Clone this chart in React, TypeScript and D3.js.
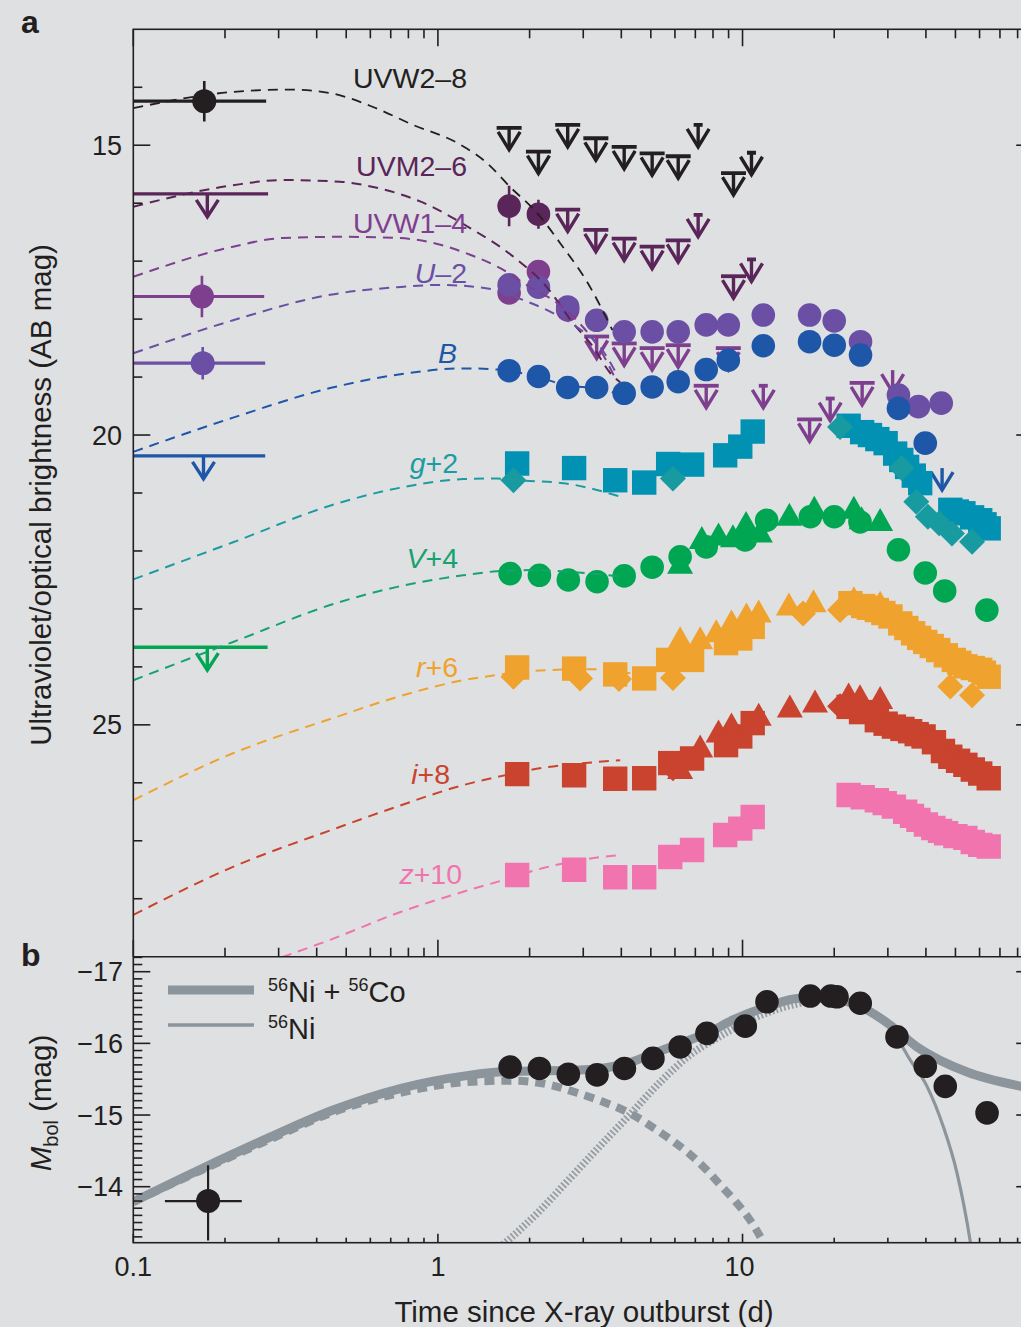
import React from 'react';
import * as d3 from 'd3';

type Pt = [number, number]; // [days since outburst, magnitude]

// ---------------- Panel a: photometry (AB mag, band offsets applied) ----------------
const uvw2Limits: Pt[] = [[1.713, 14.70], [2.138, 15.11], [2.667, 14.65], [3.30, 14.88], [4.088, 15.03], [5.05, 15.14], [6.15, 15.19], [9.34, 15.48]];
const uvw2LimitsNarrow: Pt[] = [[7.15, 14.65], [10.7, 15.13]];

const uvm2Points: Pt[] = [[1.713, 16.05], [2.138, 16.19]];
const uvm2Errors: number[] = [0.35, 0.25];
const uvm2Limits: Pt[] = [[2.667, 16.11], [3.30, 16.46], [4.088, 16.61], [5.05, 16.75], [6.15, 16.64], [9.34, 17.26]];
const uvm2LimitsNarrow: Pt[] = [[7.15, 16.20], [10.7, 16.97]];

const uvw1Points: Pt[] = [[1.713, 17.55], [2.138, 17.18], [2.667, 17.84]];
const uvw1Limits: Pt[] = [[3.32, 18.30], [4.088, 18.42], [5.05, 18.50], [6.15, 18.45], [7.6, 19.15], [8.98, 18.50], [16.6, 19.73], [24.7, 19.10]];
const uvw1LimitsNarrow: Pt[] = [[11.7, 19.15], [19.4, 19.37]];
const uvw1Arrows: Pt[] = [[31.1, 18.88]];

const uPoints: Pt[] = [[1.713, 17.41], [2.138, 17.45], [2.667, 17.79], [3.32, 18.02], [4.088, 18.22], [5.05, 18.22], [6.15, 18.22], [7.6, 18.10], [8.98, 18.10], [11.7, 17.93], [16.6, 17.93], [20.0, 18.03], [24.4, 18.39], [32.5, 19.31], [37.8, 19.51], [44.9, 19.45]];

const bPoints: Pt[] = [[1.713, 18.89], [2.138, 18.99], [2.667, 19.18], [3.32, 19.18], [4.088, 19.28], [5.05, 19.17], [6.15, 19.08], [7.6, 18.87], [8.98, 18.71], [11.7, 18.46], [16.6, 18.39], [20.0, 18.45], [24.4, 18.62], [32.5, 19.54], [39.8, 20.14]];
const bArrows: Pt[] = [[45.2, 20.57]];

const gSquares: Pt[] = [[1.82, 20.49], [2.80, 20.57], [3.82, 20.78], [4.756, 20.82], [5.70, 20.50], [6.83, 20.51], [8.77, 20.35], [9.83, 20.20], [10.8, 19.94], [22.3, 19.84], [24.7, 19.95], [26.2, 20.00], [27.7, 20.07], [29.5, 20.14], [31.7, 20.32], [33.2, 20.43], [34.7, 20.55], [36.5, 20.70], [38.3, 20.83], [48.1, 21.29], [50.5, 21.32], [53.1, 21.35], [56.7, 21.42], [60.3, 21.47], [62.3, 21.54], [64.3, 21.61]];
const gDiamonds: Pt[] = [[1.77, 20.78], [5.91, 20.75], [20.9, 19.86], [33.3, 20.57], [37.2, 21.15], [40.6, 21.41], [44.2, 21.52], [48.7, 21.70], [56.7, 21.84]];

const vCircles: Pt[] = [[1.726, 22.39], [2.154, 22.42], [2.68, 22.50], [3.33, 22.53], [4.088, 22.43], [5.05, 22.28], [6.24, 22.10], [7.6, 21.93], [10.2, 21.81], [12.0, 21.47], [16.7, 21.41], [20.0, 21.41], [24.3, 21.50], [32.5, 21.98], [39.8, 22.38], [46.1, 22.69], [63.4, 23.02]];
const vTriangles: Pt[] = [[6.24, 22.24], [7.35, 21.81], [8.34, 21.75], [9.3, 21.78], [10.27, 21.55], [11.4, 21.70], [14.25, 21.41], [17.2, 21.29], [23.2, 21.29], [24.6, 21.47], [28.3, 21.50]];

const rSquares: Pt[] = [[1.82, 24.01], [2.80, 24.03], [3.82, 24.13], [4.756, 24.20], [5.70, 23.88], [6.83, 23.88], [8.83, 23.59], [9.83, 23.51], [10.8, 23.31], [22.6, 22.90], [24.9, 22.95], [26.0, 22.98], [27.6, 23.02], [29.0, 23.07], [30.6, 23.13], [32.95, 23.25], [34.5, 23.33], [36.3, 23.42], [38.0, 23.50], [39.8, 23.57], [41.8, 23.64], [43.9, 23.71], [46.5, 23.80], [49.4, 23.88], [51.5, 23.93], [53.9, 23.99], [57.0, 24.02], [60.3, 24.05], [62.0, 24.10], [64.3, 24.17]];
const rDiamonds: Pt[] = [[1.77, 24.17], [2.93, 24.20], [3.93, 24.21], [5.91, 24.19], [15.8, 23.08], [20.9, 23.02], [48.1, 24.34], [56.7, 24.49]];
const rTriangles: Pt[] = [[6.24, 23.54], [7.26, 23.54], [8.2, 23.42], [9.2, 23.25], [10.3, 23.13], [11.3, 23.08], [14.2, 22.96], [17.1, 22.90], [23.2, 22.85], [28.3, 22.93]];

const iSquares: Pt[] = [[1.82, 25.85], [2.80, 25.87], [3.82, 25.93], [4.756, 25.92], [5.79, 25.66], [6.83, 25.58], [8.83, 25.35], [9.83, 25.20], [10.8, 24.97], [22.3, 24.69], [24.5, 24.78], [27.6, 24.92], [29.5, 24.98], [31.4, 25.03], [33.5, 25.07], [35.5, 25.11], [37.3, 25.16], [39.3, 25.20], [42.5, 25.30], [45.5, 25.45], [48.1, 25.55], [51.0, 25.62], [53.9, 25.69], [57.0, 25.77], [60.3, 25.84], [64.3, 25.92]];
const iDiamonds: Pt[] = [[5.91, 25.75], [20.9, 24.68]];
const iTriangles: Pt[] = [[6.24, 25.78], [7.26, 25.41], [8.34, 25.15], [9.2, 25.03], [11.3, 24.86], [14.3, 24.72], [17.3, 24.63], [22.3, 24.51], [24.3, 24.54], [28.3, 24.57]];

const zSquares: Pt[] = [[1.82, 27.59], [2.80, 27.50], [3.82, 27.63], [4.756, 27.63], [5.79, 27.28], [6.83, 27.16], [8.77, 26.90], [9.83, 26.79], [10.8, 26.59], [22.3, 26.21], [24.8, 26.25], [27.6, 26.30], [29.3, 26.35], [31.4, 26.41], [34.2, 26.50], [36.0, 26.57], [37.8, 26.64], [40.0, 26.72], [42.3, 26.78], [44.5, 26.83], [46.6, 26.87], [50.0, 26.92], [53.9, 26.95], [57.0, 27.02], [60.3, 27.07], [64.3, 27.10]];

// Pre-outburst epoch (time window t0..t1)
const earlyDetections = [
  { band: 'uvw2', t: 0.171, t0: 0.1, t1: 0.273, mag: 14.24, err: 0.35 },
  { band: 'uvw1', t: 0.168, t0: 0.1, t1: 0.269, mag: 17.61, err: 0.36 },
  { band: 'u', t: 0.169, t0: 0.1, t1: 0.271, mag: 18.76, err: 0.28 },
];
const earlyLimits = [
  { band: 'uvm2', t: 0.175, t0: 0.1, t1: 0.277, mag: 15.84 },
  { band: 'b', t: 0.170, t0: 0.1, t1: 0.271, mag: 20.36 },
  { band: 'v', t: 0.175, t0: 0.1, t1: 0.276, mag: 23.66 },
];

// Model light curves per band (dashed)
const uvw2Model: Pt[] = [[0.1, 14.36], [0.2126, 14.08], [0.327, 14.04], [0.4426, 14.10], [0.6127, 14.34], [0.829, 14.65], [1.157, 14.96], [1.451, 15.31], [1.726, 15.72], [2.118, 16.17], [2.577, 16.76], [3.067, 17.33], [3.74, 18.19]];
const uvm2Model: Pt[] = [[0.1, 16.06], [0.2126, 15.69], [0.31, 15.60], [0.477, 15.63], [0.613, 15.72], [0.874, 15.97], [1.276, 16.43], [1.766, 16.92], [2.279, 17.45], [2.78, 18.07], [3.233, 18.48], [3.678, 18.93], [3.966, 19.09]];
const uvw1Model: Pt[] = [[0.1, 17.27], [0.2126, 16.75], [0.31, 16.60], [0.477, 16.58], [0.7345, 16.60], [1.072, 16.75], [1.276, 16.89], [1.601, 17.12], [2.008, 17.45], [2.463, 17.72], [2.998, 18.14], [3.409, 18.53], [3.819, 19.02]];
const uModel: Pt[] = [[0.1, 18.59], [0.2126, 18.02], [0.4426, 17.58], [0.7345, 17.45], [1.017, 17.41], [1.564, 17.50], [1.862, 17.65], [2.336, 17.87], [2.865, 18.14], [3.409, 18.48], [3.877, 18.96]];
const bModel: Pt[] = [[0.1, 20.29], [0.2126, 19.70], [0.4426, 19.19], [0.7345, 18.96], [1.21, 18.85], [1.564, 18.87], [2.138, 19.00], [2.667, 19.15], [3.333, 19.19], [3.966, 19.31]];
const gModel: Pt[] = [[0.1, 22.49], [0.2126, 21.85], [0.4667, 21.18], [0.7345, 20.92], [1.21, 20.76], [1.564, 20.75], [1.82, 20.78], [2.577, 20.83], [3.966, 21.06]];
const vModel: Pt[] = [[0.1, 24.23], [0.2126, 23.57], [0.477, 22.88], [0.7345, 22.62], [1.21, 22.42], [1.564, 22.35], [2.008, 22.33], [3.16, 22.39], [4.119, 22.45]];
const rModel: Pt[] = [[0.1, 26.30], [0.2126, 25.49], [0.4667, 24.86], [0.7345, 24.52], [1.21, 24.23], [1.564, 24.14], [2.008, 24.07], [3.16, 24.04], [4.278, 24.11], [4.976, 24.16]];
const iModel: Pt[] = [[0.1, 28.28], [0.2126, 27.45], [0.4598, 26.79], [0.7345, 26.41], [1.21, 26.04], [1.564, 25.90], [2.216, 25.74], [3.333, 25.64], [3.966, 25.61]];
const zModel: Pt[] = [[0.2416, 29.21], [0.3345, 28.94], [0.4426, 28.71], [0.7345, 28.25], [1.21, 27.88], [1.637, 27.68], [2.216, 27.47], [3.333, 27.29], [3.877, 27.25]];

// ---------------- Panel b: bolometric light curve ----------------
const mbolPoints: Pt[] = [[1.726, -15.67], [2.154, -15.65], [2.68, -15.57], [3.33, -15.56], [4.095, -15.65], [5.08, -15.79], [6.24, -15.95], [7.64, -16.14], [10.21, -16.24], [12.03, -16.58], [16.69, -16.66], [19.51, -16.66], [20.42, -16.65], [24.35, -16.56], [32.14, -16.09], [39.8, -15.68], [46.3, -15.40], [63.5, -15.03]];
const mbolEarly = { t: 0.176, t0: 0.127, t1: 0.227, mag: -13.80, lo: -14.30, hi: -13.25 };

const niCoModel: Pt[] = [[0.1, -13.79], [0.1656, -14.24], [0.2742, -14.67], [0.4529, -15.07], [0.7515, -15.37], [1.244, -15.55], [1.726, -15.61], [2.52, -15.62], [3.409, -15.65], [4.18, -15.72], [4.98, -15.84], [6.24, -16.00], [7.64, -16.14], [9.34, -16.33], [12.03, -16.51], [15.47, -16.63], [19.86, -16.62], [25.0, -16.49], [30.0, -16.28], [37.4, -15.95], [54.6, -15.60], [82.3, -15.40], [92, -15.36]];
const niModel: Pt[] = [[15.47, -16.63], [19.86, -16.62], [25.0, -16.49], [28.5, -16.36], [31.26, -16.16], [35.5, -15.77], [40.33, -15.40], [45.6, -14.84], [50.6, -14.19], [55.96, -13.23], [57.5, -12.9]];
const dashedComponent: Pt[] = [[0.1, -13.79], [0.2742, -14.64], [0.4529, -15.04], [0.7515, -15.31], [1.244, -15.46], [1.766, -15.48], [2.336, -15.42], [2.858, -15.31], [3.409, -15.20], [4.376, -15.00], [5.236, -14.79], [5.934, -14.63], [6.731, -14.45], [7.639, -14.23], [8.556, -14.00], [9.585, -13.77], [10.60, -13.53], [11.7, -13.22], [12.2, -13.05]];
const hatchedComponent: Pt[] = [[1.637, -13.19], [2.166, -13.67], [2.718, -14.12], [3.409, -14.57], [4.278, -15.01], [5.368, -15.46], [6.731, -15.84], [8.45, -16.10], [10.60, -16.33], [13.30, -16.49], [16.69, -16.59]];

// Axis tick labels
const magTicksA: number[] = [15, 20, 25];
const magTicksB: number[] = [-17, -16, -15, -14];
const timeTickLabels: number[] = [0.1, 1, 10];

// ---------------- Layout ----------------
const W = 1021;
const H = 1327;
const FONT = '"Liberation Sans", Arial, Helvetica, sans-serif';
const LEFT = 133.3;
const RIGHT = 1033.2;
const TOP_A = 29.3;
const BOT_A = 956.7;
const BOT_B = 1242.7;
const INK = '#231f20';
const BG = '#dfe0e2';

const col = {
  uvw2: '#231f20',
  uvm2: '#5a2558',
  uvw1: '#7e3f8e',
  u: '#6a4fa5',
  b: '#1e57a8',
  g: '#0091b3',
  gDiamond: '#179aa0',
  gLabel: '#1c9ca0',
  v: '#00a651',
  vLabel: '#17a271',
  r: '#f0a22f',
  i: '#c9432e',
  z: '#f174ae',
  model: '#8d959c',
  hatch: '#959ca3',
};

const x = d3.scaleLog().domain([0.1, 90]).range([LEFT, RIGHT]);
const yA = d3.scaleLinear().domain([13, 29]).range([TOP_A, BOT_A]);
const yB = d3.scaleLinear().domain([-17, -14]).range([971.7, 1186.7]);

const curveA = d3.line<Pt>().x((d) => x(d[0])).y((d) => yA(d[1])).curve(d3.curveMonotoneX);
const curveB = d3.line<Pt>().x((d) => x(d[0])).y((d) => yB(d[1])).curve(d3.curveMonotoneX);

type Shape = 'circle' | 'square' | 'diamond' | 'triangle';

function markerPath(shape: Shape, cx: number, cy: number): string {
  const p = d3.path();
  if (shape === 'circle') {
    p.moveTo(cx + 11.8, cy);
    p.arc(cx, cy, 11.8, 0, Math.PI * 2);
  } else if (shape === 'square') {
    p.rect(cx - 12.2, cy - 12.2, 24.4, 24.4);
  } else if (shape === 'diamond') {
    p.moveTo(cx, cy - 13);
    p.lineTo(cx + 13, cy);
    p.lineTo(cx, cy + 13);
    p.lineTo(cx - 13, cy);
    p.closePath();
  } else {
    p.moveTo(cx, cy - 14);
    p.lineTo(cx + 13, cy + 9);
    p.lineTo(cx - 13, cy + 9);
    p.closePath();
  }
  return p.toString();
}

function Marks({ data, shape, color, y, id }: { data: Pt[]; shape: Shape; color: string; y: (v: number) => number; id: string }) {
  return (
    <g fill={color}>
      {data.map((d, k) => (
        <path key={`${id}-${k}`} d={markerPath(shape, x(d[0]), y(d[1]))} />
      ))}
    </g>
  );
}

// Upper-limit symbol: cap bar, stem and open arrow head
function Limits({ data, color, cap, id }: { data: Pt[]; color: string; cap: number; id: string }) {
  return (
    <g stroke={color} strokeWidth={3.4} fill="none">
      {data.map((d, k) => {
        const cx = x(d[0]);
        const cy = yA(d[1]);
        return (
          <g key={`${id}-${k}`}>
            {cap > 0 && <line x1={cx - cap} x2={cx + cap} y1={cy} y2={cy} strokeWidth={3.8} />}
            <line x1={cx} x2={cx} y1={cy} y2={cy + 22} />
            <polyline points={`${cx - 11},${cy + 4} ${cx},${cy + 22} ${cx + 11},${cy + 4}`} />
          </g>
        );
      })}
    </g>
  );
}

const bandColor: Record<string, string> = { uvw2: col.uvw2, uvm2: col.uvm2, uvw1: col.uvw1, u: col.u, b: col.b, v: col.v };

function fmtMinus(v: number): string {
  return v < 0 ? `\u2212${Math.abs(v)}` : `${v}`;
}

export default function App() {
  // time ticks: 0.1 .. 90
  const timeTicks: { v: number; major: boolean }[] = [];
  [0.1, 1, 10].forEach((dec) => {
    for (let k = 1; k <= 9; k++) {
      const v = +(dec * k).toPrecision(3);
      if (v <= 90.001) timeTicks.push({ v, major: k === 1 });
    }
  });
  const magTicksMinorA = d3.range(14, 29);
  const magTicksMinorB = d3.range(-172, -132).map((v) => v / 10);

  const dashed = { strokeWidth: 2, strokeDasharray: '10 7', fill: 'none' } as const;

  return (
    <svg width={W} height={H} viewBox={`0 0 ${W} ${H}`} style={{ position: 'absolute', left: 0, top: 0, display: 'block' }} fontFamily={FONT}>
      <defs>
        <clipPath id="clipA">
          <rect x={LEFT} y={TOP_A} width={RIGHT - LEFT} height={BOT_A - TOP_A} />
        </clipPath>
        <clipPath id="clipB">
          <rect x={LEFT} y={BOT_A} width={RIGHT - LEFT} height={BOT_B - BOT_A} />
        </clipPath>
      </defs>
      <rect x={0} y={0} width={W} height={H} fill={BG} />

      {/* ================= Panel a ================= */}
      <g clipPath="url(#clipA)">
        {/* early epoch detections and limits */}
        {earlyLimits.map((e) => {
          const c = bandColor[e.band];
          const cx = x(e.t);
          const cy = yA(e.mag);
          return (
            <g key={`el-${e.band}`} stroke={c} fill="none" strokeWidth={3.4}>
              <line x1={x(e.t0) - 2} x2={x(e.t1)} y1={cy} y2={cy} />
              <line x1={cx} x2={cx} y1={cy} y2={cy + 23} />
              <polyline points={`${cx - 11},${cy + 6} ${cx},${cy + 23} ${cx + 11},${cy + 6}`} />
            </g>
          );
        })}
        {earlyDetections.map((e) => {
          const c = bandColor[e.band];
          const cx = x(e.t);
          const cy = yA(e.mag);
          return (
            <g key={`ed-${e.band}`}>
              <line x1={x(e.t0) - 2} x2={x(e.t1)} y1={cy} y2={cy} stroke={c} strokeWidth={3.2} />
              <line x1={cx} x2={cx} y1={yA(e.mag - e.err)} y2={yA(e.mag + e.err)} stroke={c} strokeWidth={2.6} />
              <circle cx={cx} cy={cy} r={12} fill={c} />
            </g>
          );
        })}

        {/* UVW2 */}
        <Limits data={uvw2Limits} color={col.uvw2} cap={12.5} id="uvw2l" />
        <Limits data={uvw2LimitsNarrow} color={col.uvw2} cap={4.5} id="uvw2n" />

        {/* UVM2 */}
        <g stroke={col.uvm2} strokeWidth={2.6}>
          {uvm2Points.map((d, k) => (
            <line key={`uvm2e-${k}`} x1={x(d[0])} x2={x(d[0])} y1={yA(d[1] - uvm2Errors[k])} y2={yA(d[1] + uvm2Errors[k])} />
          ))}
        </g>
        <Marks data={uvm2Points} shape="circle" color={col.uvm2} y={yA} id="uvm2" />
        <Limits data={uvm2Limits} color={col.uvm2} cap={12.5} id="uvm2l" />
        <Limits data={uvm2LimitsNarrow} color={col.uvm2} cap={4.5} id="uvm2n" />

        {/* UVW1 */}
        <Marks data={uvw1Points} shape="circle" color={col.uvw1} y={yA} id="uvw1" />
        <Limits data={uvw1Limits} color={col.uvw1} cap={12.5} id="uvw1l" />
        <Limits data={uvw1LimitsNarrow} color={col.uvw1} cap={4.5} id="uvw1n" />
        <Limits data={uvw1Arrows} color={col.uvw1} cap={0} id="uvw1a" />

        {/* U */}
        <Marks data={uPoints} shape="circle" color={col.u} y={yA} id="u" />

        {/* B */}
        <Marks data={bPoints} shape="circle" color={col.b} y={yA} id="b" />
        <Limits data={bArrows} color={col.b} cap={0} id="ba" />

        {/* g */}
        <Marks data={gSquares} shape="square" color={col.g} y={yA} id="gs" />
        <Marks data={gDiamonds} shape="diamond" color={col.gDiamond} y={yA} id="gd" />

        {/* V */}
        <Marks data={vCircles} shape="circle" color={col.v} y={yA} id="vc" />
        <Marks data={vTriangles} shape="triangle" color={col.v} y={yA} id="vt" />

        {/* r */}
        <Marks data={rDiamonds} shape="diamond" color={col.r} y={yA} id="rd" />
        <Marks data={rSquares} shape="square" color={col.r} y={yA} id="rs" />
        <Marks data={rTriangles} shape="triangle" color={col.r} y={yA} id="rt" />

        {/* i */}
        <Marks data={iDiamonds} shape="diamond" color={col.i} y={yA} id="id" />
        <Marks data={iSquares} shape="square" color={col.i} y={yA} id="is" />
        <Marks data={iTriangles} shape="triangle" color={col.i} y={yA} id="it" />

        {/* z */}
        <Marks data={zSquares} shape="square" color={col.z} y={yA} id="zs" />

        {/* model curves */}
        <path d={curveA(uvw2Model) || ''} stroke={col.uvw2} {...dashed} strokeWidth={1.8} />
        <path d={curveA(uvm2Model) || ''} stroke={col.uvm2} {...dashed} />
        <path d={curveA(uvw1Model) || ''} stroke={col.uvw1} {...dashed} />
        <path d={curveA(uModel) || ''} stroke={col.u} {...dashed} />
        <path d={curveA(bModel) || ''} stroke={col.b} {...dashed} />
        <path d={curveA(gModel) || ''} stroke={col.gLabel} {...dashed} />
        <path d={curveA(vModel) || ''} stroke={col.vLabel} {...dashed} />
        <path d={curveA(rModel) || ''} stroke={col.r} {...dashed} />
        <path d={curveA(iModel) || ''} stroke={col.i} {...dashed} />
        <path d={curveA(zModel) || ''} stroke={col.z} {...dashed} />
      </g>

      {/* band labels */}
      <g fontSize={28.5} textAnchor="end">
        <text x={467} y={88} fill={col.uvw2}>UVW2–8</text>
        <text x={467} y={176} fill={col.uvm2}>UVM2–6</text>
        <text x={467} y={233} fill={col.uvw1}>UVW1–4</text>
        <text x={467} y={283} fill={col.u}><tspan fontStyle="italic">U</tspan>–2</text>
        <text x={457} y={363} fill={col.b} fontStyle="italic">B</text>
        <text x={458} y={473} fill={col.gLabel}><tspan fontStyle="italic">g</tspan>+2</text>
        <text x={458} y={568} fill={col.vLabel}><tspan fontStyle="italic">V</tspan>+4</text>
        <text x={458} y={677} fill={col.r}><tspan fontStyle="italic">r</tspan>+6</text>
        <text x={450} y={784} fill={col.i}><tspan fontStyle="italic">i</tspan>+8</text>
        <text x={462} y={884} fill={col.z}><tspan fontStyle="italic">z</tspan>+10</text>
      </g>

      {/* ================= Panel b ================= */}
      <g clipPath="url(#clipB)">
        <path d={curveB(hatchedComponent) || ''} stroke={col.hatch} strokeWidth={7.5} strokeDasharray="1.8 2.2" fill="none" />
        <path d={curveB(dashedComponent) || ''} stroke={col.model} strokeWidth={8} strokeDasharray="10 7" fill="none" />
        <path d={curveB(niModel) || ''} stroke={col.model} strokeWidth={3.2} fill="none" />
        <path d={curveB(niCoModel) || ''} stroke={col.model} strokeWidth={9} fill="none" />
        <Marks data={mbolPoints} shape="circle" color={INK} y={yB} id="mbol" />
        <g stroke={INK} strokeWidth={2.2}>
          <line x1={x(mbolEarly.t0)} x2={x(mbolEarly.t1)} y1={yB(mbolEarly.mag)} y2={yB(mbolEarly.mag)} />
          <line x1={x(mbolEarly.t)} x2={x(mbolEarly.t)} y1={yB(mbolEarly.lo)} y2={yB(mbolEarly.hi)} />
        </g>
        <circle cx={x(mbolEarly.t)} cy={yB(mbolEarly.mag)} r={12} fill={INK} />
      </g>

      {/* legend */}
      <line x1={168} x2={254} y1={990} y2={990} stroke={col.model} strokeWidth={9} />
      <line x1={168} x2={254} y1={1025} y2={1025} stroke={col.model} strokeWidth={3.4} />
      <text x={268} y={1001.5} fontSize={29} fill={INK}>
        <tspan fontSize={18} dy={-11}>56</tspan>
        <tspan dy={11}>Ni + </tspan>
        <tspan fontSize={18} dy={-11}>56</tspan>
        <tspan dy={11}>Co</tspan>
      </text>
      <text x={268} y={1039} fontSize={29} fill={INK}>
        <tspan fontSize={18} dy={-11}>56</tspan>
        <tspan dy={11}>Ni</tspan>
      </text>

      {/* ================= Axes ================= */}
      <g stroke={INK} strokeWidth={1.6} fill="none">
        <rect x={LEFT} y={TOP_A} width={RIGHT - LEFT} height={BOT_B - TOP_A} />
        <line x1={LEFT} x2={RIGHT} y1={BOT_A} y2={BOT_A} />
        {timeTicks.map((t) => (
          <g key={`tt-${t.v}`}>
            <line x1={x(t.v)} x2={x(t.v)} y1={TOP_A} y2={TOP_A + (t.major ? 17 : 9)} />
            <line x1={x(t.v)} x2={x(t.v)} y1={BOT_A} y2={BOT_A - (t.major ? 17 : 9)} />
            <line x1={x(t.v)} x2={x(t.v)} y1={BOT_B} y2={BOT_B - (t.major ? 9 : 5)} />
          </g>
        ))}
        {magTicksMinorA.map((m) => {
          const major = magTicksA.includes(m);
          const len = major ? 17 : 9;
          return (
            <g key={`ma-${m}`}>
              <line x1={LEFT} x2={LEFT + len} y1={yA(m)} y2={yA(m)} />
              <line x1={RIGHT} x2={RIGHT - len} y1={yA(m)} y2={yA(m)} />
            </g>
          );
        })}
        {magTicksMinorB.map((m) => {
          const major = Math.abs(m - Math.round(m)) < 1e-6;
          const len = major ? 17 : 9;
          return (
            <g key={`mb-${m}`}>
              <line x1={LEFT} x2={LEFT + len} y1={yB(m)} y2={yB(m)} />
              <line x1={RIGHT} x2={RIGHT - len} y1={yB(m)} y2={yB(m)} />
            </g>
          );
        })}
      </g>

      {/* tick labels */}
      <g fontSize={27} fill={INK}>
        {magTicksA.map((m) => (
          <text key={`la-${m}`} x={122} y={yA(m) + 9.5} textAnchor="end">{m}</text>
        ))}
        {magTicksB.map((m) => (
          <text key={`lb-${m}`} x={123} y={yB(m) + 9.5} textAnchor="end">{fmtMinus(m)}</text>
        ))}
        {timeTickLabels.map((t) => (
          <text key={`lt-${t}`} x={x(t) - (t === 10 ? 3 : 0)} y={1276} textAnchor="middle">{t}</text>
        ))}
      </g>

      {/* axis titles */}
      <text x={584} y={1322} fontSize={29.5} textAnchor="middle" fill={INK}>Time since X-ray outburst (d)</text>
      <text transform="translate(51,495) rotate(-90)" fontSize={29.5} textAnchor="middle" fill={INK}>
        Ultraviolet/optical brightness (AB mag)
      </text>
      <text transform="translate(51,1103) rotate(-90)" fontSize={29.5} textAnchor="middle" fill={INK}>
        <tspan fontStyle="italic">M</tspan>
        <tspan fontSize={20} dy={7}>bol</tspan>
        <tspan dy={-7}> (mag)</tspan>
      </text>

      {/* panel letters */}
      <text x={21} y={33} fontSize={32} fontWeight="bold" fill={INK}>a</text>
      <text x={21} y={966} fontSize={32} fontWeight="bold" fill={INK}>b</text>
    </svg>
  );
}
